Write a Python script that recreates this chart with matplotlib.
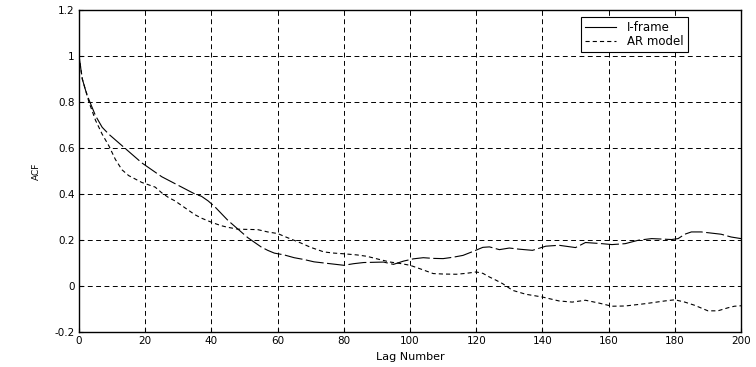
import matplotlib
matplotlib.use('Agg')
import matplotlib.pyplot as plt
from matplotlib.lines import Line2D

plt.rcParams['font.family'] = ['DejaVu Sans']
plt.rcParams['lines.scale_dashes'] = False

# Daten
iframe_lag = [0, 1, 2, 3, 5, 7, 9, 11, 13, 15, 17, 19, 21, 23, 25, 27, 29, 31, 33, 35,
              37, 39, 41, 43, 45, 47, 49, 51, 53, 55, 57, 59, 62, 65, 68, 71, 74, 77, 80,
              83, 86, 89, 92, 95, 98, 101, 104, 107, 110, 113, 116, 119, 122, 124, 127,
              130, 133, 137, 141, 145, 150, 153, 158, 161, 165, 169, 173, 176, 179, 181,
              183, 185, 188, 191, 194, 197, 200]
iframe_acf = [1.0, 0.90, 0.85, 0.81, 0.74, 0.69, 0.66, 0.635, 0.61, 0.585, 0.56, 0.535,
              0.515, 0.495, 0.475, 0.46, 0.445, 0.43, 0.415, 0.40, 0.39, 0.37, 0.345,
              0.315, 0.285, 0.26, 0.235, 0.21, 0.19, 0.17, 0.155, 0.143, 0.135, 0.123,
              0.115, 0.105, 0.10, 0.095, 0.09, 0.097, 0.102, 0.103, 0.104, 0.094, 0.108,
              0.118, 0.123, 0.12, 0.119, 0.125, 0.133, 0.15, 0.168, 0.17, 0.158, 0.165,
              0.16, 0.155, 0.173, 0.177, 0.167, 0.189, 0.184, 0.18, 0.184, 0.199, 0.206,
              0.204, 0.202, 0.206, 0.225, 0.235, 0.235, 0.23, 0.225, 0.213, 0.206]

ar_lag = [0, 1, 2, 3, 5, 7, 9, 11, 13, 15, 17, 19, 21, 23, 25, 27, 29, 31, 33, 35, 37,
          39, 41, 43, 45, 48, 51, 54, 57, 60, 63, 67, 70, 74, 77, 80, 84, 87, 90, 94, 97,
          100, 103, 107, 110, 114, 117, 120, 122, 124, 126, 128, 131, 135, 140, 145,
          149, 153, 157, 161, 165, 171, 177, 180, 183, 186, 190, 193, 196, 198, 200]
ar_acf = [1.0, 0.90, 0.85, 0.80, 0.72, 0.66, 0.61, 0.55, 0.505, 0.48, 0.465, 0.45, 0.44,
          0.43, 0.405, 0.385, 0.37, 0.35, 0.33, 0.31, 0.295, 0.283, 0.272, 0.262, 0.255,
          0.247, 0.246, 0.245, 0.235, 0.228, 0.21, 0.187, 0.168, 0.148, 0.143, 0.14,
          0.135, 0.129, 0.118, 0.104, 0.098, 0.09, 0.075, 0.054, 0.052, 0.051, 0.055,
          0.061, 0.055, 0.039, 0.025, 0.01, -0.019, -0.036, -0.048, -0.065, -0.07,
          -0.062, -0.074, -0.088, -0.087, -0.077, -0.065, -0.06, -0.07, -0.084, -0.108,
          -0.108, -0.095, -0.088, -0.086]

x_ticks = [0, 20, 40, 60, 80, 100, 120, 140, 160, 180, 200]
y_ticks = [-0.2, 0, 0.2, 0.4, 0.6, 0.8, 1, 1.2]
y_ticklabels = ['-0.2', '0', '0.2', '0.4', '0.6', '0.8', '1', '1.2']

fig = plt.figure(figsize=(7.56, 3.67), dpi=100)
ax = fig.add_axes([0.1045, 0.0954, 0.8757, 0.8774])

ax.plot(iframe_lag, iframe_acf, color='black', lw=0.8, linestyle=(0, (13, 2.5)))
ax.plot(ar_lag, ar_acf, color='black', lw=0.8, linestyle=(0, (3, 2.2)))

ax.set_xlim(0, 200)
ax.set_ylim(-0.2, 1.2)
ax.set_xticks(x_ticks)
ax.set_yticks(y_ticks)
ax.set_yticklabels(y_ticklabels)
ax.tick_params(direction='in', length=3, labelsize=7.5, color='black', pad=3)
ax.grid(True, color='black', linestyle=(0, (3.5, 2.5)), linewidth=0.7)
for s in ax.spines.values():
    s.set_linewidth(1.0)

ax.set_xlabel('Lag Number', fontsize=8, labelpad=4)
ax.set_ylabel('ACF', fontsize=6.5, labelpad=10)

handles = [Line2D([], [], color='black', lw=0.8),
           Line2D([], [], color='black', lw=0.8, linestyle=(0, (3, 2.2)))]
leg = ax.legend(handles, ['I-frame', 'AR model'], loc='upper right',
                bbox_to_anchor=(0.92, 0.978), fontsize=8.5, fancybox=False,
                framealpha=1, edgecolor='black', borderpad=0.35, labelspacing=0.05,
                handlelength=2.6, handletextpad=1.0, borderaxespad=0)
leg.get_frame().set_linewidth(0.8)

fig.savefig('out.png', dpi=100)
